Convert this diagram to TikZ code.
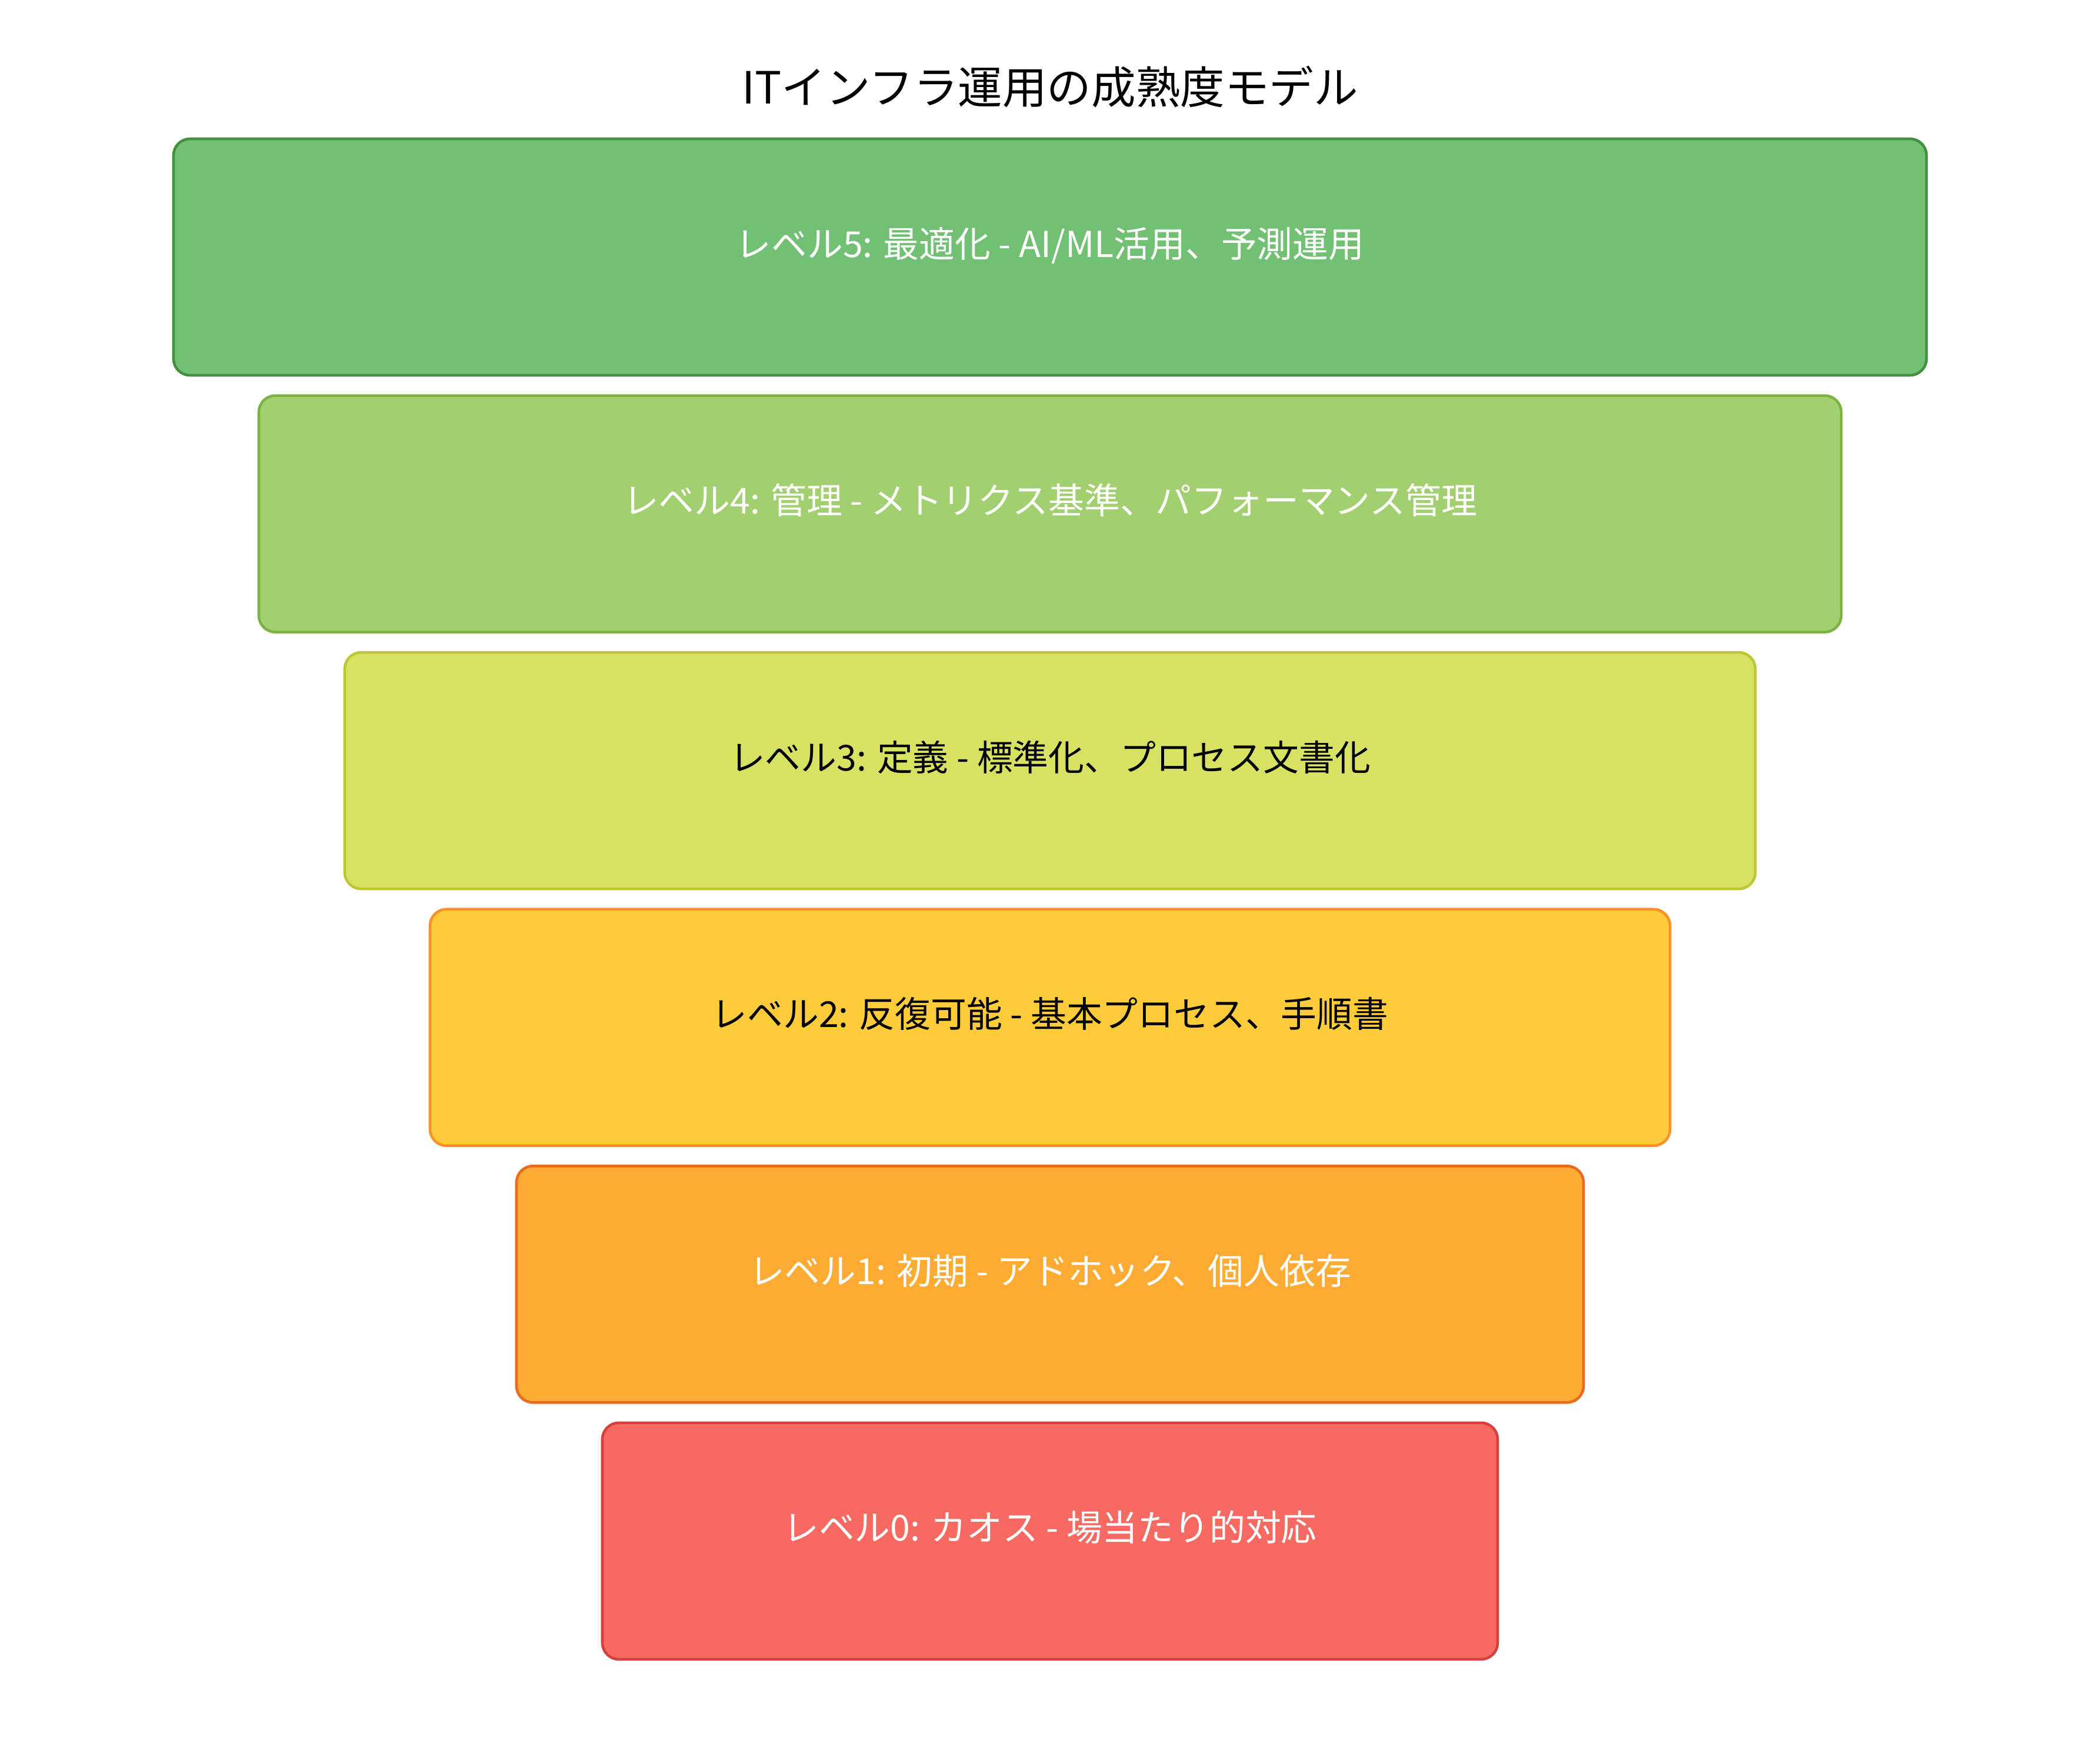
\documentclass[tikz,border=0pt]{standalone}
\usepackage{fontspec}
\setmainfont{Noto Sans CJK JP}
\usetikzlibrary{positioning}

\definecolor{lvfivefill}{HTML}{72C073}
\definecolor{lvfivedraw}{HTML}{43913F}
\definecolor{lvfourfill}{HTML}{A2CF6F}
\definecolor{lvfourdraw}{HTML}{7CB342}
\definecolor{lvthreefill}{HTML}{D8E262}
\definecolor{lvthreedraw}{HTML}{BFC634}
\definecolor{lvtwofill}{HTML}{FECB3B}
\definecolor{lvtwodraw}{HTML}{F9922B}
\definecolor{lvonefill}{HTML}{FEAB34}
\definecolor{lvonedraw}{HTML}{EB6A1E}
\definecolor{lvzerofill}{HTML}{F66A61}
\definecolor{lvzerodraw}{HTML}{D84040}

\begin{document}
\begin{tikzpicture}[
    level/.style={draw, line width=1.3pt, rounded corners=0.28cm,
        minimum height=4.02cm, inner sep=0pt,
        text height=0.5cm, text depth=0.5cm,
        font=\fontsize{17.3}{20}\selectfont},
    title/.style={font=\fontsize{21.5}{25}\selectfont}
]
        % Page
        \useasboundingbox (0,0) rectangle (35.7,-29.7);

        % Title
        \node[title] (heading) at (17.85,-1.48) {ITインフラ運用の成熟度モデル};

        % Levels, top to bottom
        \node[level, fill=lvfivefill, draw=lvfivedraw, text=white, minimum width=29.8cm]
            (lv5) at (17.85,-4.37) {レベル5: 最適化 - AI/ML活用、予測運用};
        \node[level, fill=lvfourfill, draw=lvfourdraw, text=white, minimum width=26.9cm,
            below=0.30cm of lv5] (lv4) {レベル4: 管理 - メトリクス基準、パフォーマンス管理};
        \node[level, fill=lvthreefill, draw=lvthreedraw, text=black, minimum width=23.98cm,
            below=0.30cm of lv4] (lv3) {レベル3: 定義 - 標準化、プロセス文書化};
        \node[level, fill=lvtwofill, draw=lvtwodraw, text=black, minimum width=21.08cm,
            below=0.30cm of lv3] (lv2) {レベル2: 反復可能 - 基本プロセス、手順書};
        \node[level, fill=lvonefill, draw=lvonedraw, text=white, minimum width=18.14cm,
            below=0.30cm of lv2] (lv1) {レベル1: 初期 - アドホック、個人依存};
        \node[level, fill=lvzerofill, draw=lvzerodraw, text=white, minimum width=15.22cm,
            below=0.30cm of lv1] (lv0) {レベル0: カオス - 場当たり的対応};
    \end{tikzpicture}
\end{document}
